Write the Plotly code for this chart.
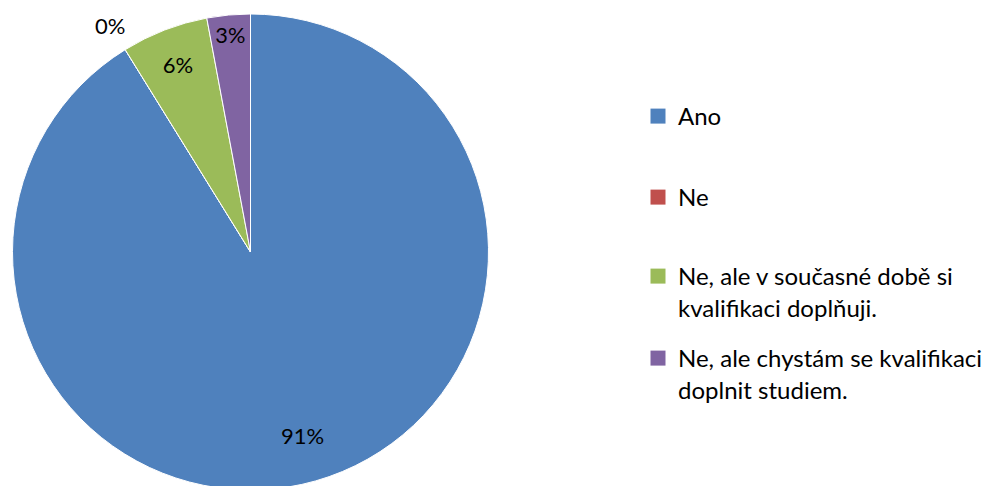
import math
import plotly.graph_objects as go

categories = ["Ano", "Ne", "Ne, ale v současné době si kvalifikaci doplňuji.",
              "Ne, ale chystám se kvalifikaci doplnit studiem."]
counts = [31, 0, 2, 1]
colors = ["#4F81BD", "#C0504D", "#9BBB59", "#8064A2"]

# legend wrapping (display only)
wrapped = {
    categories[2]: "Ne, ale v současné době si<br>kvalifikaci doplňuji.",
    categories[3]: "Ne, ale chystám se kvalifikaci<br>doplnit studiem.",
}

W, H = 990, 486
FONT = "Lato"

# pie geometry (figure pixels)
x0, x1 = 4, 481
top, bottom = 6, 482
dom_x = [x0 / W, x1 / W]
dom_y = [1 - bottom / H, 1 - top / H]
R = min(x1 - x0, bottom - top) / 2
cx, cy = (x0 + x1) / 2, (top + bottom) / 2

total = sum(counts)
shares = [c / total for c in counts]

textpos = ["inside" if 0 < s < 0.5 else "none" for s in shares]

fig = go.Figure()
fig.add_trace(go.Pie(
    labels=categories,
    values=counts,
    sort=False,
    direction="clockwise",
    rotation=0,
    marker=dict(colors=colors, line=dict(color="white", width=1)),
    texttemplate="%{percent:.0%}",
    textposition=textpos,
    insidetextorientation="horizontal",
    textfont=dict(size=22, color="black", family=FONT),
    domain=dict(x=dom_x, y=dom_y),
    showlegend=False,
    hoverinfo="label+percent",
))

annotations = []
cum = 0.0
for i, s in enumerate(shares):
    mid = cum + s / 2
    cum += s
    if textpos[i] != "none":
        continue
    rf = 1.12 if s == 0 else 0.8
    th = 2 * math.pi * mid
    px = cx + rf * R * math.sin(th)
    py = cy - rf * R * math.cos(th)
    annotations.append(dict(
        x=px / W, y=1 - py / H, xref="paper", yref="paper",
        text=f"{round(s * 100)}%", showarrow=False,
        font=dict(size=22, color="black", family=FONT),
        xanchor="center", yanchor="middle",
    ))

legend_tops = [86, 167, 246, 328]
layout_legends = {}
for i, (cat, col) in enumerate(zip(categories, colors)):
    lname = "legend" if i == 0 else f"legend{i + 1}"
    fig.add_trace(go.Scatter(
        x=[None], y=[None], mode="markers",
        marker=dict(symbol="square", size=15, color=col),
        name=wrapped.get(cat, cat),
        legend=lname, showlegend=True, hoverinfo="skip",
    ))
    layout_legends[lname] = dict(
        x=630 / W, xanchor="left",
        y=1 - legend_tops[i] / H, yanchor="top",
        valign="top",
        font=dict(size=24, color="black", family=FONT),
        bgcolor="rgba(0,0,0,0)",
        itemclick=False, itemdoubleclick=False,
    )

fig.update_layout(
    width=W, height=H,
    margin=dict(l=0, r=0, t=0, b=0),
    paper_bgcolor="white",
    plot_bgcolor="white",
    font=dict(family=FONT, size=22, color="black"),
    xaxis=dict(visible=False),
    yaxis=dict(visible=False),
    annotations=annotations,
    showlegend=True,
    **layout_legends,
)

fig.write_html("out.html")
